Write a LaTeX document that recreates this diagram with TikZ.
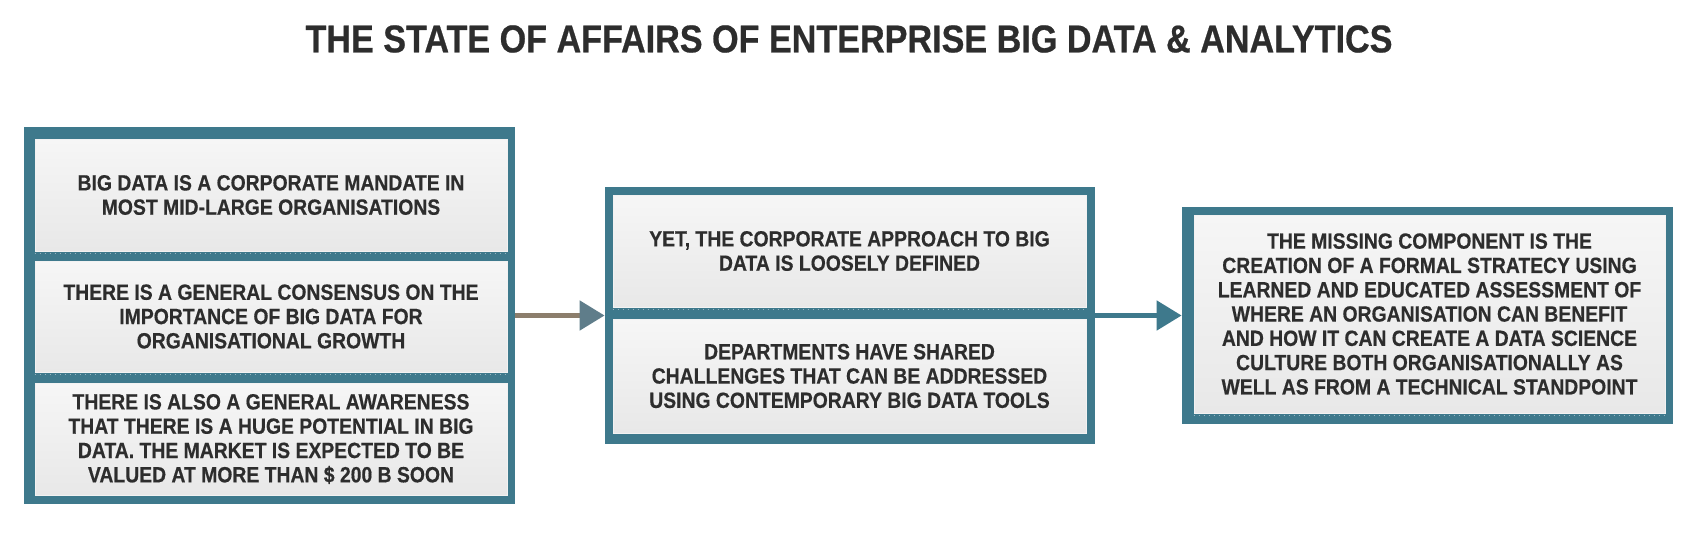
\documentclass[tikz,border=0pt]{standalone}
\usepackage{fontspec}
\newfontfamily\bodyfont{Liberation Sans}[FakeStretch=0.88,FakeBold=0.5]
\newfontfamily\titlefont{Liberation Sans}[FakeStretch=0.88,FakeBold=0.6]
\usetikzlibrary{arrows.meta}
\definecolor{frameblue}{RGB}{62,121,140}
\definecolor{txtgray}{RGB}{45,45,45}
\definecolor{boxtop}{RGB}{246,246,246}
\definecolor{boxbot}{RGB}{232,232,232}
\definecolor{dotline}{RGB}{150,180,192}
\definecolor{shaftbrown}{RGB}{140,126,108}
\definecolor{headgray}{RGB}{95,125,138}
\tikzset{
  outerbox/.style={rectangle, fill=frameblue, inner sep=0pt},
  innerbox/.style={rectangle, inner sep=0pt, top color=boxtop, bottom color=boxbot,
     draw=white!90!gray, line width=0.4pt, align=center, text=txtgray,
     font=\bodyfont\bfseries\fontsize{11}{12.15}\selectfont},
  sepline/.style={dotline, dotted, line width=0.5pt},
  flowarrow/.style={line width=2.5pt, -{Triangle[length=12.5pt,width=14.5pt]}}
}
\begin{document}
\begin{tikzpicture}[x=0.5pt,y=-0.5pt]
\useasboundingbox[fill=white] (0,0) rectangle (1706,556);
\node[text=txtgray, font=\titlefont\bfseries\fontsize{19.4}{22}\selectfont] (title) at (849,39) {THE STATE OF AFFAIRS OF ENTERPRISE BIG DATA \& ANALYTICS};
% left group
\node[outerbox, minimum width=245.5pt, minimum height=188.5pt] (L) at (269.5,315.5) {};
\node[innerbox, minimum width=236pt, minimum height=56pt] (L1) at (271,195) {BIG DATA IS A CORPORATE MANDATE IN\\MOST MID-LARGE ORGANISATIONS};
\node[innerbox, minimum width=236pt, minimum height=55.5pt] (L2) at (271,316.5) {THERE IS A GENERAL CONSENSUS ON THE\\IMPORTANCE OF BIG DATA FOR\\ORGANISATIONAL GROWTH};
\node[innerbox, minimum width=236pt, minimum height=56pt] (L3) at (271,439) {THERE IS ALSO A GENERAL AWARENESS\\THAT THERE IS A HUGE POTENTIAL IN BIG\\DATA. THE MARKET IS EXPECTED TO BE\\VALUED AT MORE THAN \$ 200 B SOON};
\draw[sepline] ([yshift=-1.2pt]L1.south west) -- ([yshift=-1.2pt]L1.south east);
\draw[sepline] ([yshift=-1.2pt]L2.south west) -- ([yshift=-1.2pt]L2.south east);
% middle group
\node[outerbox, minimum width=245pt, minimum height=128.5pt] (M) at (850,315.5) {};
\node[innerbox, minimum width=236.5pt, minimum height=56pt] (M1) at (849.5,251) {YET, THE CORPORATE APPROACH TO BIG\\DATA IS LOOSELY DEFINED};
\node[innerbox, minimum width=236.5pt, minimum height=57pt] (M2) at (849.5,376) {DEPARTMENTS HAVE SHARED\\CHALLENGES THAT CAN BE ADDRESSED\\USING CONTEMPORARY BIG DATA TOOLS};
\draw[sepline] ([yshift=-1.2pt]M1.south west) -- ([yshift=-1.2pt]M1.south east);
% right group
\node[outerbox, minimum width=245.5pt, minimum height=108.5pt] (R) at (1427.5,315.5) {};
\node[innerbox, minimum width=235.5pt, minimum height=99pt] (R1) at (1429.5,314) {THE MISSING COMPONENT IS THE\\CREATION OF A FORMAL STRATECY USING\\LEARNED AND EDUCATED ASSESSMENT OF\\WHERE AN ORGANISATION CAN BENEFIT\\AND HOW IT CAN CREATE A DATA SCIENCE\\CULTURE BOTH ORGANISATIONALLY AS\\WELL AS FROM A TECHNICAL STANDPOINT};
\draw[sepline] ([yshift=-1.2pt]R1.south west) -- ([yshift=-1.2pt]R1.south east);
% arrows
\draw[flowarrow, shaftbrown, -{Triangle[length=12.5pt,width=14.5pt,color=headgray]}] (L.east) -- (M.west);
\draw[flowarrow, frameblue] (M.east) -- (R.west);
\end{tikzpicture}
\end{document}
